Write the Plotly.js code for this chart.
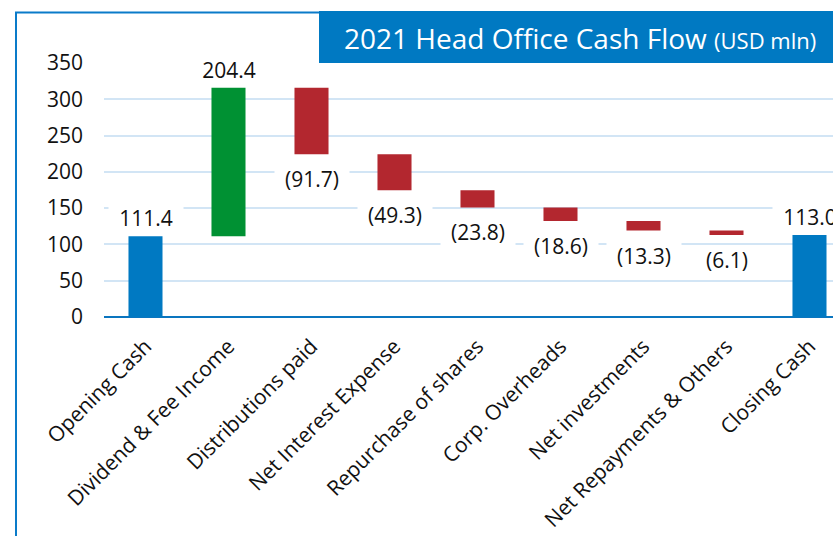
<!DOCTYPE html>
<html>
<head>
<meta charset="utf-8">
<script src="https://cdn.plot.ly/plotly-3.0.1.min.js"></script>
<style>
html,body{margin:0;padding:0;background:#fff;overflow:hidden;}
#chart{width:833px;height:536px;}
</style>
</head>
<body>
<div id="chart"></div>
<script>
// ---- data ----
const categories = ["Opening Cash","Dividend & Fee Income","Distributions paid","Net Interest Expense","Repurchase of shares","Corp. Overheads","Net investments","Net Repayments & Others","Closing Cash"];
const values = [111.4, 204.4, -91.7, -49.3, -23.8, -18.6, -13.3, -6.1, 0];
const measures = ["absolute","relative","relative","relative","relative","relative","relative","relative","total"];
const yTickVals = [0,50,100,150,200,250,300,350];
const titleText = "2021 Head Office Cash Flow";
const titleUnit = "(USD mln)";

// ---- layout geometry ----
const W = 833, H = 536;
const ml = 104, mr = 0, mt = 63, mb = 219;
const pw = W - ml - mr, ph = H - mt - mb;
const px2x = p => (p - ml) / pw;
const py2y = p => 1 - (p - mt) / ph;
const FONT = "Open Sans, sans-serif";
const BLUE = "#0079C2";

// cumulative ends for labels
let run = 0;
const labelY = [], labelTxt = [], labelSide = [];
measures.forEach((m, i) => {
  if (m === "absolute") { run = values[i]; labelY.push(run); labelTxt.push(values[i].toFixed(1)); labelSide.push(1); }
  else if (m === "total") { labelY.push(run); labelTxt.push(run.toFixed(1)); labelSide.push(1); }
  else {
    run += values[i];
    labelY.push(run);
    if (values[i] >= 0) { labelTxt.push(values[i].toFixed(1)); labelSide.push(1); }
    else { labelTxt.push("(" + Math.abs(values[i]).toFixed(1) + ")"); labelSide.push(-1); }
  }
});

const trace = {
  type: "waterfall",
  x: categories,
  y: values,
  measure: measures,
  increasing: {marker: {color: "#009133"}},
  decreasing: {marker: {color: "#B3272F"}},
  totals: {marker: {color: "#0079C2"}},
  connector: {visible: false},
  textinfo: "none",
  hoverinfo: "none",
  cliponaxis: false
};

const annotations = categories.map((c, i) => ({
  x: c, y: labelY[i], xref: "x", yref: "y",
  text: labelTxt[i], showarrow: false,
  font: {family: FONT, size: 21, color: "#111"},
  bgcolor: "#ffffff", width: 72, height: 26, borderpad: 1,
  yanchor: "middle", yshift: labelSide[i] > 0 ? 18 : -25
}));

annotations.push({
  xref: "paper", yref: "paper", x: px2x(342), y: py2y(38),
  xanchor: "left", yanchor: "middle", showarrow: false,
  text: titleText + " <span style='font-size:22px'>" + titleUnit + "</span>",
  font: {family: FONT, size: 28, color: "#ffffff"}
});

const shapes = [
  {type: "line", xref: "paper", yref: "paper", x0: px2x(16), x1: px2x(16), y0: py2y(12), y1: py2y(545), line: {color: "#0A7BC9", width: 2}},
  {type: "line", xref: "paper", yref: "paper", x0: px2x(15), x1: px2x(320), y0: py2y(12.5), y1: py2y(12.5), line: {color: "#0A7BC9", width: 2}},
  {type: "rect", xref: "paper", yref: "paper", x0: px2x(319), x1: px2x(845), y0: py2y(63), y1: py2y(11), fillcolor: BLUE, line: {width: 0}}
];

const layout = {
  width: W, height: H,
  margin: {l: ml, r: mr, t: mt, b: mb, pad: 0},
  paper_bgcolor: "#fff", plot_bgcolor: "#fff",
  showlegend: false,
  waterfallgap: 0.59,
  font: {family: FONT, size: 21, color: "#111"},
  xaxis: {
    type: "category", range: [-0.5, -0.5 + pw / 83],
    tickangle: -45, dtick: 1, showgrid: false, zeroline: false, showline: false,
    ticks: "", tickfont: {family: FONT, size: 21, color: "#111"},
    ticklabelstandoff: 12, fixedrange: true
  },
  yaxis: {
    range: [0, 350], tickvals: yTickVals, showgrid: true, gridcolor: "#D2E5F5", gridwidth: 2,
    zeroline: true, zerolinecolor: "#0A75BF", zerolinewidth: 2.5,
    showline: false, ticks: "", tickfont: {family: FONT, size: 21, color: "#111"},
    ticklabelstandoff: 20, fixedrange: true
  },
  annotations: annotations,
  shapes: shapes
};

Plotly.newPlot("chart", [trace], layout, {displayModeBar: false, staticPlot: true});
</script>
</body>
</html>
